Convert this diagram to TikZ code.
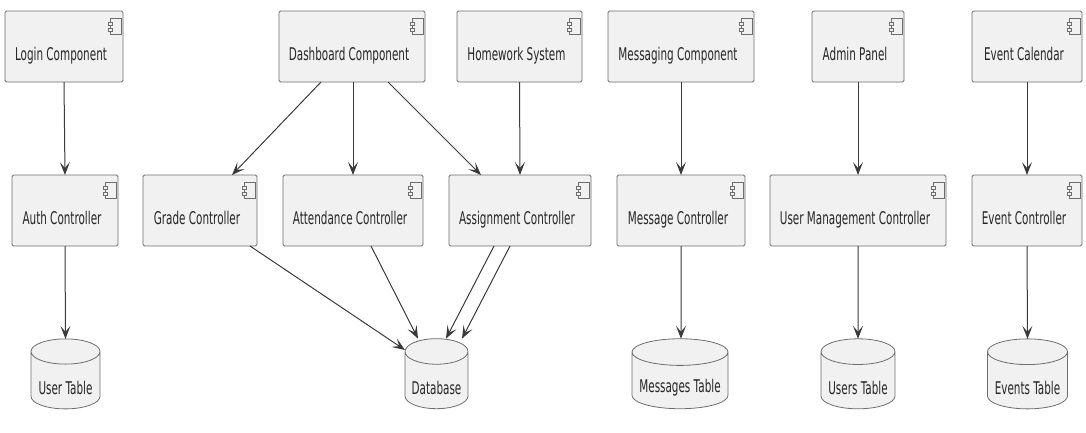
\documentclass[tikz,border=0pt]{standalone}
\usepackage{fontspec}
\setmainfont{DejaVu Sans}[FakeStretch=0.595]
\usetikzlibrary{arrows.meta,shapes.geometric}
\definecolor{boxfill}{HTML}{F1F1F1}
\definecolor{boxline}{HTML}{6E6E6E}
\definecolor{flowline}{HTML}{3A3A3A}
\newcommand{\lowtext}[1]{\raisebox{-5.5pt}[\height][\depth]{#1}}
\tikzset{
	compbox/.style={draw=boxline,fill=boxfill,thick,rectangle,rounded corners=1.5pt,outer sep=0pt,minimum height=71pt,
		font=\fontsize{17.5}{17.5}\selectfont,text=black!85,text height=30pt,text depth=2pt,execute at end node=\hspace*{6pt}},
	tablebox/.style={draw=boxline,fill=boxfill,thick,cylinder,shape border rotate=90,outer sep=0pt,minimum height=70pt,
		font=\fontsize{17.5}{17.5}\selectfont,text=black!85,inner sep=2pt},
	flow/.style={draw=flowline,line width=1pt,-{Stealth[length=13pt,width=10pt,inset=6pt]}},
	icon/.style={draw=boxline,fill=boxfill,line width=.6pt}
}
\begin{document}
\begin{tikzpicture}[x=1pt,y=-1pt]
	\useasboundingbox (0,0) rectangle (1086,432);

	% top row
	\node[compbox,minimum width=118pt] (login) at (64,46.5) {Login Component};
	\node[compbox,minimum width=146pt] (dashboard) at (352,46.5) {Dashboard Component};
	\node[compbox,minimum width=125pt] (homework) at (519.5,46.5) {Homework System};
	\node[compbox,minimum width=146pt] (messaging) at (681,46.5) {Messaging Component};
	\node[compbox,minimum width=92pt] (admin) at (858,46.5) {Admin Panel};
	\node[compbox,minimum width=110pt] (calendar) at (1027,46.5) {Event Calendar};

	% controllers
	\node[compbox,minimum width=106pt] (auth) at (65,210.5) {Auth Controller};
	\node[compbox,minimum width=114pt] (grade) at (200,210.5) {Grade Controller};
	\node[compbox,minimum width=140pt] (attendance) at (353,210.5) {Attendance Controller};
	\node[compbox,minimum width=142pt] (assignment) at (520,210.5) {Assignment Controller};
	\node[compbox,minimum width=128pt] (message) at (681,210.5) {Message Controller};
	\node[compbox,minimum width=176pt] (usermgmt) at (858,210.5) {User Management Controller};
	\node[compbox,minimum width=110pt] (event) at (1027,210.5) {Event Controller};

	% tables
	\node[tablebox,minimum width=69pt,aspect=.435] (usertable) at (65.5,382.5) {\lowtext{User Table}};
	\node[tablebox,minimum width=63pt,aspect=.476] (database) at (436.5,382.5) {\lowtext{Database}};
	\node[tablebox,minimum width=96pt,aspect=.3125] (messagestable) at (680,382.5) {\lowtext{Messages Table}};
	\node[tablebox,minimum width=74pt,aspect=.405] (userstable) at (858,382.5) {\lowtext{Users Table}};
	\node[tablebox,minimum width=80pt,aspect=.37] (eventstable) at (1027.5,382.5) {\lowtext{Events Table}};

	% component icons
	\foreach \n in {login,dashboard,homework,messaging,admin,calendar,auth,grade,attendance,assignment,message,usermgmt,event} {
		\draw[icon,shift={(\n.north east)}] (-13,7.5) rectangle (-2,23);
		\draw[icon,shift={(\n.north east)}] (-15,11) rectangle (-11,14.5);
		\draw[icon,shift={(\n.north east)}] (-15,17) rectangle (-11,20.5);
	}

	\draw[flow] (login.south) -- (auth.north);
	\draw[flow] ([xshift=-31pt]dashboard.south) -- ([xshift=32pt]grade.north);
	\draw[flow] ([xshift=1pt]dashboard.south) -- (attendance.north);
	\draw[flow] ([xshift=36pt]dashboard.south) -- ([xshift=-39pt]assignment.north);
	\draw[flow] (homework.south) -- (assignment.north);
	\draw[flow] (messaging.south) -- (message.north);
	\draw[flow] (admin.south) -- (usermgmt.north);
	\draw[flow] (calendar.south) -- (event.north);

	\draw[flow] (auth.south) -- (usertable.north);
	\draw[flow] ([xshift=50pt]grade.south) -- ([yshift=32.5pt]database.west);
	\draw[flow] ([xshift=18pt]attendance.south) -- ([xshift=-18.5pt]database.north);
	\draw[flow] ([xshift=-26pt]assignment.south) -- ([xshift=9.5pt]database.north);
	\draw[flow] ([xshift=-10pt]assignment.south) -- ([xshift=25.5pt]database.north);
	\draw[flow] (message.south) -- ([xshift=1pt]messagestable.north);
	\draw[flow] (usermgmt.south) -- (userstable.north);
	\draw[flow] (event.south) -- (eventstable.north);
\end{tikzpicture}
\end{document}
